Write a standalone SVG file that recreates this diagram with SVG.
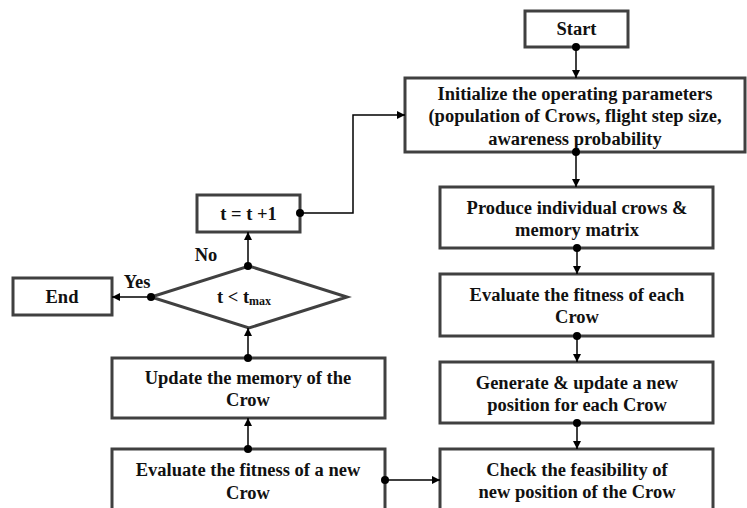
<svg xmlns="http://www.w3.org/2000/svg" width="747" height="508" viewBox="0 0 747 508">
<defs>
<marker id="ah" viewBox="0 0 10 10" refX="10" refY="5" markerWidth="8" markerHeight="8" markerUnits="userSpaceOnUse" orient="auto">
<path d="M0,0 L10,5 L0,10 z" fill="#000"/>
</marker>
</defs>
<style>
.box{fill:#fff;stroke:#404040;stroke-width:3}
.t{font-family:"Liberation Serif","Times New Roman",serif;font-weight:bold;font-size:18.5px;fill:#111;text-anchor:middle;dominant-baseline:central}
.c{fill:none;stroke:#000;stroke-width:1.5}
.d{fill:#000}
</style>
<rect width="747" height="508" fill="#fff"/>
<g id="start"><rect class="box" x="525" y="11" width="103" height="36"/><text class="t" x="576.5" y="29">Start</text></g>
<g id="init"><rect class="box" x="405" y="78" width="340" height="74"/>
<text class="t" x="575" y="94">Initialize the operating parameters</text>
<text class="t" x="575" y="116">(population of Crows, flight step size,</text>
<text class="t" x="575" y="139">awareness probability</text></g>
<g id="produce"><rect class="box" x="440" y="187" width="273" height="61"/>
<text class="t" x="577" y="208">Produce individual crows &amp;</text>
<text class="t" x="577" y="230">memory matrix</text></g>
<g id="evalEach"><rect class="box" x="440" y="274" width="273" height="62"/>
<text class="t" x="577" y="295">Evaluate the fitness of each</text>
<text class="t" x="577" y="317">Crow</text></g>
<g id="generate"><rect class="box" x="440" y="362" width="273" height="61"/>
<text class="t" x="577" y="383">Generate &amp; update a new</text>
<text class="t" x="577" y="405">position for each Crow</text></g>
<g id="check"><rect class="box" x="440" y="449" width="273" height="70"/>
<text class="t" x="577" y="470">Check the feasibility of</text>
<text class="t" x="577" y="492">new position of the Crow</text></g>
<g id="evalNew"><rect class="box" x="112" y="449" width="273" height="70"/>
<text class="t" x="248" y="470">Evaluate the fitness of a new</text>
<text class="t" x="248" y="493">Crow</text></g>
<g id="update"><rect class="box" x="112" y="358" width="273" height="60"/>
<text class="t" x="248" y="378">Update the memory of the</text>
<text class="t" x="248" y="400">Crow</text></g>
<g id="decision"><polygon class="box" points="249,266 347,297 249,328 151,297"/>
<text class="t" x="244" y="297">t &lt; t<tspan font-size="12" dy="4">max</tspan></text></g>
<g id="increment"><rect class="box" x="197" y="195" width="103" height="37"/><text class="t" x="248.5" y="214">t = t +1</text></g>
<g id="end"><rect class="box" x="13" y="278" width="99" height="37"/><text class="t" x="62" y="297">End</text></g>
<g id="connectors">
<line class="c" x1="576" y1="47" x2="576" y2="78" marker-end="url(#ah)"/><circle class="d" cx="576" cy="47" r="4"/>
<line class="c" x1="576" y1="152" x2="576" y2="187" marker-end="url(#ah)"/><circle class="d" cx="576" cy="152" r="4"/>
<line class="c" x1="577" y1="248" x2="577" y2="274" marker-end="url(#ah)"/><circle class="d" cx="577" cy="248" r="4"/>
<line class="c" x1="577" y1="336" x2="577" y2="362" marker-end="url(#ah)"/><circle class="d" cx="577" cy="336" r="4"/>
<line class="c" x1="577" y1="423" x2="577" y2="449" marker-end="url(#ah)"/><circle class="d" cx="577" cy="423" r="4"/>
<line class="c" x1="385" y1="480" x2="440" y2="480" marker-end="url(#ah)"/><circle class="d" cx="385" cy="480" r="4"/>
<line class="c" x1="248" y1="449" x2="248" y2="418" marker-end="url(#ah)"/><circle class="d" cx="248" cy="449" r="4"/>
<line class="c" x1="248" y1="358" x2="248" y2="328" marker-end="url(#ah)"/><circle class="d" cx="248" cy="358" r="4"/>
<line class="c" x1="248" y1="266" x2="248" y2="232" marker-end="url(#ah)"/><circle class="d" cx="248" cy="266" r="4"/>
<line class="c" x1="151" y1="297" x2="112" y2="297" marker-end="url(#ah)"/><circle class="d" cx="151" cy="297" r="4"/>
<polyline class="c" points="300,213 353,213 353,115 405,115" marker-end="url(#ah)"/><circle class="d" cx="300" cy="213" r="4"/>
<text class="t" x="206" y="255">No</text>
<text class="t" x="137" y="282">Yes</text>
</g>
</svg>
